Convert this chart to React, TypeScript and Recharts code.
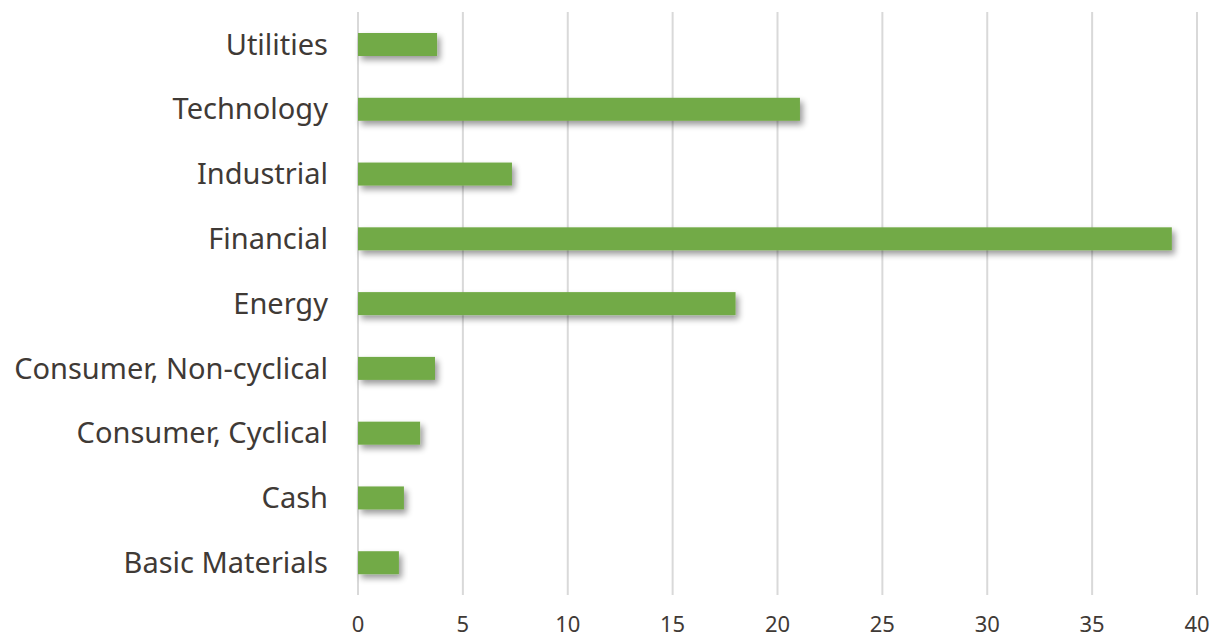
import { BarChart, Bar, XAxis, YAxis, CartesianGrid } from 'recharts';

const sectors = [
  'Utilities',
  'Technology',
  'Industrial',
  'Financial',
  'Energy',
  'Consumer, Non-cyclical',
  'Consumer, Cyclical',
  'Cash',
  'Basic Materials',
];
const weights = [3.77, 21.07, 7.34, 38.8, 18.0, 3.67, 2.96, 2.19, 1.95];
const xTicks = [0, 5, 10, 15, 20, 25, 30, 35, 40];

const data = sectors.map((name, i) => ({ name, value: weights[i] }));

const FONT = '"Source Sans Pro", "Noto Sans", sans-serif';
const TEXT = '#3f3a36';

function ShadowBar(props: any) {
  const { x, y, width, height, fill } = props;
  return <rect x={x} y={y} width={width} height={height} fill={fill} filter="url(#barShadow)" />;
}

export default function App() {
  return (
    <div style={{ position: 'absolute', left: 0, top: 0, width: 1217, height: 641, background: '#fff' }}>
      <BarChart
        width={1217}
        height={641}
        data={data}
        layout="vertical"
        margin={{ top: 12, right: 20, bottom: 0, left: 0 }}
        barCategoryGap={21}
      >
        <defs>
          <filter id="barShadow" x="-10%" y="-60%" width="130%" height="280%">
            <feGaussianBlur in="SourceAlpha" stdDeviation="3" />
            <feOffset dx="3" dy="4" result="off" />
            <feComponentTransfer>
              <feFuncA type="linear" slope="0.4" />
            </feComponentTransfer>
            <feMerge>
              <feMergeNode />
              <feMergeNode in="SourceGraphic" />
            </feMerge>
          </filter>
        </defs>
        <CartesianGrid horizontal={false} stroke="#d9d9d9" strokeWidth={2} />
        <XAxis
          type="number"
          domain={[0, 40]}
          ticks={xTicks}
          axisLine={false}
          tickLine={false}
          tickSize={0}
          tickMargin={21}
          height={46}
          tick={{ fontSize: 22, fill: TEXT, fontFamily: FONT }}
        />
        <YAxis
          type="category"
          dataKey="name"
          width={358}
          axisLine={false}
          tickLine={false}
          tickSize={0}
          tickMargin={30}
          tick={{ fontSize: 29, fill: TEXT, fontFamily: FONT }}
        />
        <Bar dataKey="value" fill="#72aa47" isAnimationActive={false} shape={ShadowBar} />
      </BarChart>
    </div>
  );
}
